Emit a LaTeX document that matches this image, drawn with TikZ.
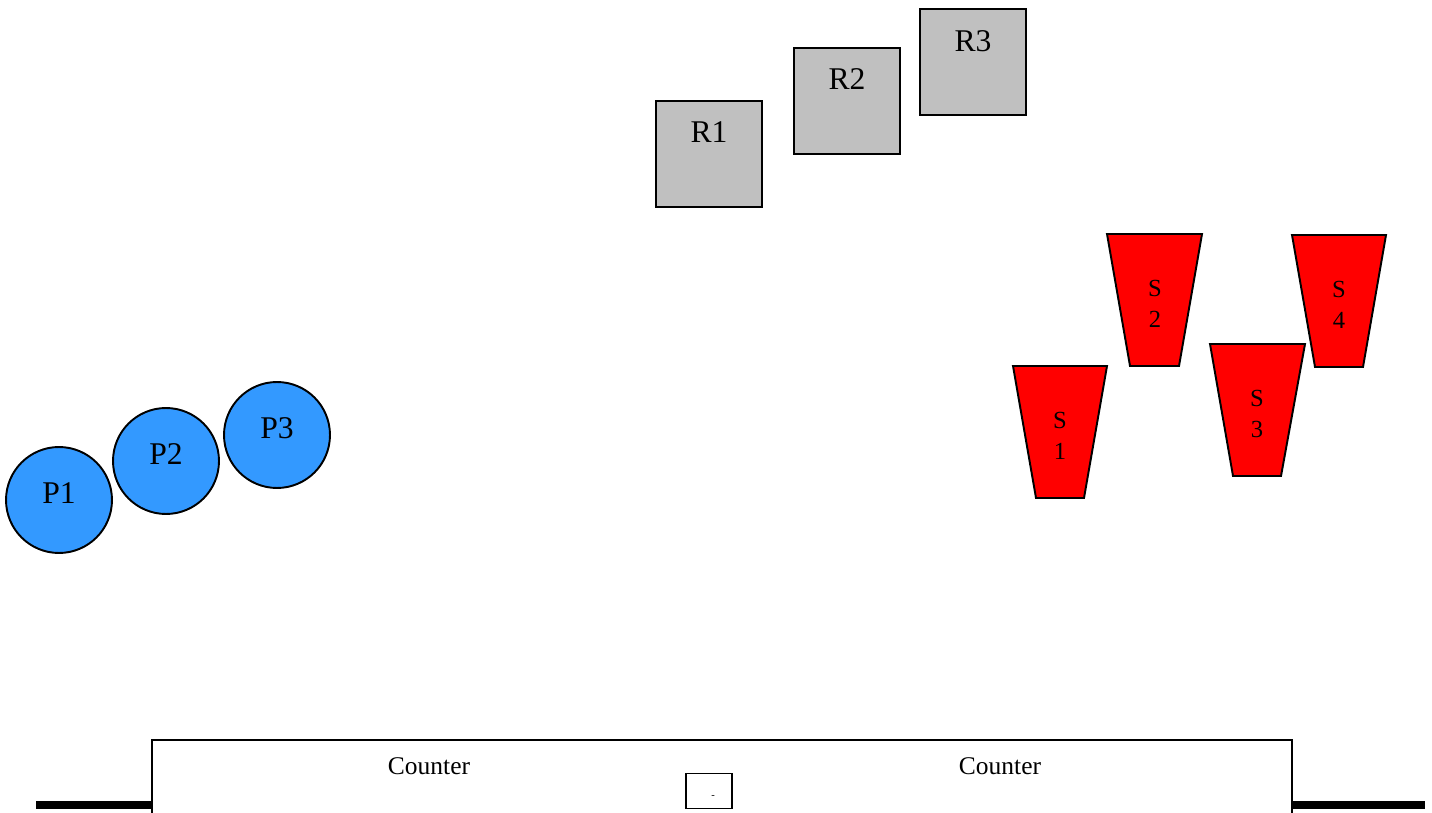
\documentclass[tikz,border=0pt]{standalone}
\usepackage{fontspec}
\setmainfont{Liberation Serif}
\usetikzlibrary{positioning}
\definecolor{rackgray}{HTML}{C0C0C0}
\definecolor{podblue}{HTML}{3399FF}
\definecolor{stoolred}{HTML}{FF0000}

\begin{document}
\begin{tikzpicture}[
    x=0.02cm, y=-0.02cm,
    rack/.style={draw, line width=1.1pt, fill=rackgray, minimum width=2.12cm, minimum height=2.12cm, inner sep=0pt},
    pod/.style={draw, circle, line width=1.1pt, fill=podblue, minimum size=2.12cm, inner sep=0pt},
    stool/.style={draw, line width=1.1pt, fill=stoolred, line join=miter},
    label/.style={inner sep=0pt, font=\fontsize{18}{20}\selectfont},
    slabel/.style={inner sep=0pt, align=center, font=\fontsize{14}{17.5}\selectfont},
    wall/.style={line width=1.1pt},
    floor/.style={line width=4.5pt}
]
\useasboundingbox (0,0) rectangle (1432,813);

% racks
\node[rack] (r1) at (709,154) {};
\node[rack] (r2) at (847,101) {};
\node[rack] (r3) at (973,62) {};
\node[label] at (709,132) {R1};
\node[label] at (847,79) {R2};
\node[label] at (973,41) {R3};

% pods
\node[pod] (p1) at (59,500) {};
\node[pod] (p2) at (166,461) {};
\node[pod] (p3) at (277,435) {};
\node[label] at (59,493) {P1};
\node[label] at (166,454) {P2};
\node[label] at (277,428) {P3};

% stools
\draw[stool] (1013,366) -- (1107,366) -- (1084,498) -- (1036,498) -- cycle;
\draw[stool] (1107,234) -- (1202,234) -- (1179,366) -- (1130,366) -- cycle;
\draw[stool] (1210,344) -- (1305,344) -- (1281,476) -- (1233,476) -- cycle;
\draw[stool] (1292,235) -- (1386,235) -- (1363,367) -- (1315,367) -- cycle;
\node[slabel] (s1) at (1060,436) {S\\1};
\node[slabel] (s2) at (1155,304) {S\\2};
\node[slabel] (s3) at (1257,414) {S\\3};
\node[slabel] (s4) at (1339,305) {S\\4};

% counter
\draw[wall] (152,813) -- (152,740) -- (1292,740) -- (1292,813);
\draw[floor] (36,805) -- (152,805);
\draw[floor] (1292,805) -- (1425,805);
\node[inner sep=0pt, font=\fontsize{14.5}{16}\selectfont] (c1) at (429,766) {Counter};
\node[inner sep=0pt, font=\fontsize{14.5}{16}\selectfont] (c2) at (1000,766) {Counter};
\node[draw, line width=1.1pt, minimum width=0.92cm, minimum height=0.7cm, inner sep=0pt] (till) at (709,791) {};
\node[inner sep=0pt, font=\fontsize{6}{7}\selectfont] at (713,797) {-};
\end{tikzpicture}
\end{document}
